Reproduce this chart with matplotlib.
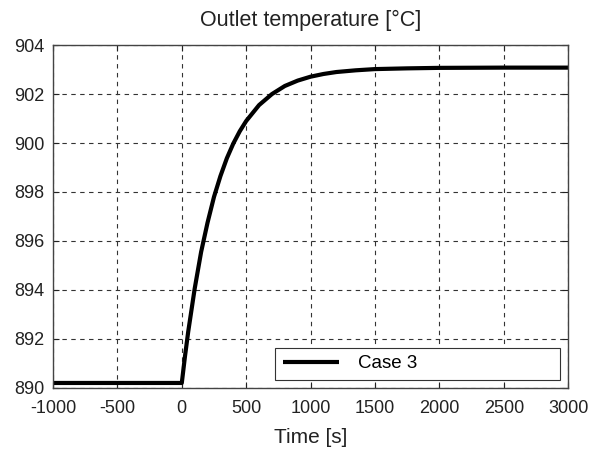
import numpy as np
import matplotlib
matplotlib.use("Agg")
import matplotlib.pyplot as plt

# values
time_s = [-1000, 0, 25, 50, 100, 150, 200, 250, 300, 350, 400, 450, 500, 600, 700,
          800, 900, 1000, 1100, 1200, 1350, 1500, 1750, 2000, 2500, 3000]
outlet_temp = [890.2, 890.2, 891.3, 892.3, 894.05, 895.55, 896.75, 897.8, 898.65,
               899.38, 899.98, 900.48, 900.9, 901.55, 902.0, 902.33, 902.55, 902.71,
               902.82, 902.9, 902.97, 903.02, 903.05, 903.07, 903.08, 903.08]
x_ticks = [-1000, -500, 0, 500, 1000, 1500, 2000, 2500, 3000]
y_ticks = [890, 892, 894, 896, 898, 900, 902, 904]

plt.rcParams['font.family'] = ['Liberation Sans', 'DejaVu Sans']
plt.rcParams['axes.unicode_minus'] = False

fig = plt.figure(figsize=(5.99, 4.51), dpi=100)
ax = fig.add_axes([0.0885, 0.140, 0.860, 0.760])

ax.plot(time_s, outlet_temp, color='black', lw=3, label='Case 3', solid_capstyle='butt')

ax.set_xlim(-1000, 3000)
ax.set_ylim(890, 904)
ax.set_xticks(x_ticks)
ax.set_yticks(y_ticks)
ax.tick_params(direction='in', length=4, width=0.8, labelsize=13, colors='#222222',
               top=True, right=True)
ax.tick_params(axis='x', pad=9)
ax.tick_params(axis='y', pad=6)
ax.grid(True, color='#333333', linestyle=(0, (4, 4)), linewidth=0.8)
for s in ax.spines.values():
    s.set_color('#444444')
    s.set_linewidth(1.0)

ax.set_title('Outlet temperature [°C]', fontsize=15.5, pad=14, color='#222222')
ax.set_xlabel('Time [s]', fontsize=15, labelpad=8, color='#222222')

leg = ax.legend(loc='lower left', bbox_to_anchor=(0.431, 0.023, 0.553, 0.102),
                mode='expand', fancybox=False, framealpha=1, edgecolor='#333333',
                fontsize=13.5, handlelength=3.0, handletextpad=1.0, borderaxespad=0)
leg.get_frame().set_linewidth(0.8)

fig.savefig('out.png', dpi=100)
